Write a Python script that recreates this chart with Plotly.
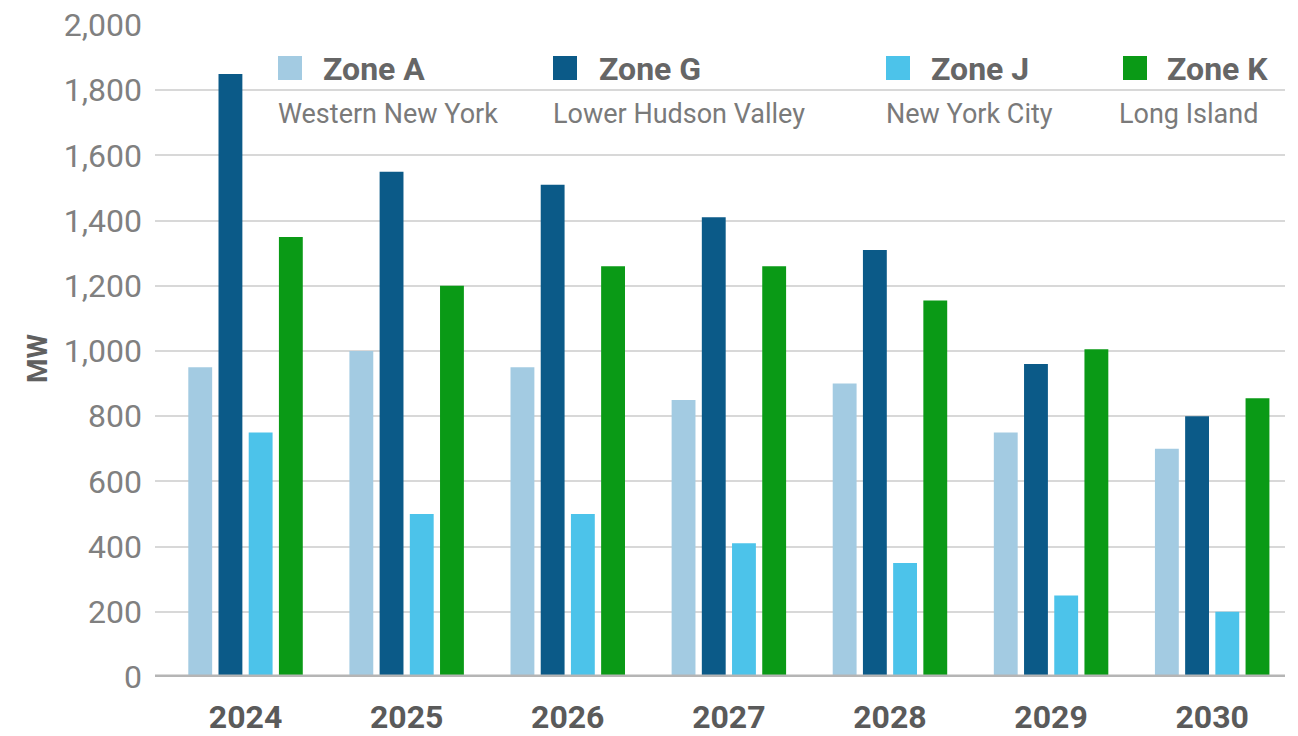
import plotly.graph_objects as go

years = ["2024", "2025", "2026", "2027", "2028", "2029", "2030"]
zone_names = ["Zone A", "Zone G", "Zone J", "Zone K"]
zone_regions = ["Western New York", "Lower Hudson Valley", "New York City", "Long Island"]
zone_a = [950, 1000, 950, 850, 900, 750, 700]
zone_g = [1850, 1550, 1510, 1410, 1310, 960, 800]
zone_j = [750, 500, 500, 410, 350, 250, 200]
zone_k = [1350, 1200, 1260, 1260, 1155, 1005, 855]
y_ticks = [0, 200, 400, 600, 800, 1000, 1200, 1400, 1600, 1800, 2000]
colors = ["#a3cbe2", "#0b5a88", "#4cc3ea", "#0a9a16"]

series = [zone_a, zone_g, zone_j, zone_k]

FONT = "Roboto, 'Liberation Sans', sans-serif"

fig = go.Figure()
for name, vals, col in zip(zone_names, series, colors):
    fig.add_trace(go.Bar(x=years, y=vals, name=name, marker=dict(color=col, line=dict(width=0)),
                         showlegend=False))

# plot area in pixels: x 155..1285, y 25..677
L, R, T, B = 155, 1285, 25, 677
def px(x):
    return (x - L) / (R - L)
def py(y):
    return (B - y) / (B - T)

fig.update_layout(
    width=1298, height=736,
    margin=dict(l=L, r=1298 - R, t=T, b=736 - B, autoexpand=False),
    paper_bgcolor="white", plot_bgcolor="white",
    barmode="group", bargap=0.25, bargroupgap=0.21,
    font=dict(family=FONT),
    xaxis=dict(type="category", range=[-0.562, 6.452], showgrid=False, showline=False,
               ticks="", ticklabelstandoff=18, automargin=False,
               tickfont=dict(family=FONT, size=32, color="#5a5a5a", weight="bold")),
    yaxis=dict(range=[0, 2000], tickvals=y_ticks, tickformat=",", showgrid=True,
               gridcolor="#d8d8d8", gridwidth=2, zeroline=False, showline=False, ticks="",
               ticklabelstandoff=12, automargin=False,
               tickfont=dict(family=FONT, size=32, color="#808080")),
)

# baseline
fig.add_shape(type="line", xref="paper", yref="y", x0=0, x1=1, y0=0, y1=0,
              line=dict(color="#b5b5b5", width=5))

# y title
fig.add_annotation(text="<b>MW</b>", xref="paper", yref="paper", x=px(37), y=py(358),
                   xanchor="center", yanchor="middle",
                   textangle=-90, showarrow=False, font=dict(family=FONT, size=28, color="#606060"))

# custom legend
sq_x = [278, 553, 886, 1123]
txt_x = [321, 597, 929, 1165]
sub_x = [276, 551, 884, 1117]
for i in range(4):
    fig.add_shape(type="rect", xref="paper", yref="paper",
                  x0=px(sq_x[i]), x1=px(sq_x[i] + 24), y0=py(80), y1=py(56),
                  fillcolor=colors[i], line=dict(width=0))
    fig.add_annotation(text="<b>" + zone_names[i] + "</b>", xref="paper", yref="paper",
                       x=px(txt_x[i]), y=py(69), xanchor="left", yanchor="middle",
                       showarrow=False, font=dict(family=FONT, size=32, color="#666666"))
    fig.add_annotation(text=zone_regions[i], xref="paper", yref="paper",
                       x=px(sub_x[i]), y=py(114), xanchor="left", yanchor="middle",
                       showarrow=False, font=dict(family=FONT, size=27, color="#7a7a7a"))

fig.write_html("out.html", config={"displayModeBar": False},
               post_script="document.body.style.margin='0';document.body.style.overflow='hidden';")
